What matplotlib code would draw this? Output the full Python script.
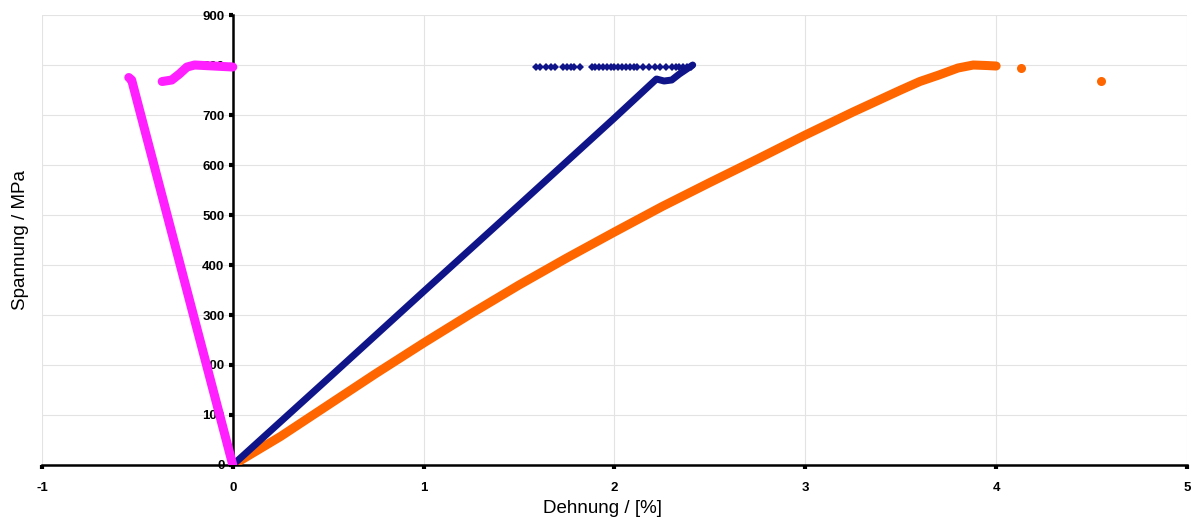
import matplotlib
matplotlib.use("Agg")
import matplotlib.pyplot as plt

# Stress-strain curves (strain in %, stress in MPa)
blue_strain = [0.0, 0.5, 1.0, 1.5, 2.0, 2.22, 2.26, 2.30, 2.34, 2.41]
blue_stress = [0.0, 173, 347, 520, 694, 772, 768, 770, 782, 800]
blue_dia_strain = [1.59, 1.61, 1.64, 1.67, 1.69, 1.73, 1.75, 1.77, 1.79, 1.82,
                   1.88, 1.90, 1.92, 1.94, 1.96, 1.98, 2.00, 2.02, 2.04, 2.06,
                   2.08, 2.10, 2.12, 2.15, 2.18, 2.21, 2.24, 2.27, 2.30, 2.32,
                   2.34, 2.36, 2.38, 2.40]
blue_dia_stress = [797] * len(blue_dia_strain)

orange_strain = [0.0, 0.25, 0.5, 0.75, 1.0, 1.25, 1.5, 1.75, 2.0, 2.25, 2.5,
                 2.75, 3.0, 3.25, 3.5, 3.6, 3.7, 3.8, 3.88, 3.95, 4.0]
orange_stress = [0, 57, 120, 183, 244, 303, 360, 414, 466, 517, 565,
                 612, 660, 706, 750, 767, 780, 794, 800, 799, 798]
orange_out_strain = [4.13, 4.55]
orange_out_stress = [794, 768]

magenta_strain = [0.0, -0.53, -0.545]
magenta_stress = [0, 770, 775]
magenta_top_strain = [-0.37, -0.32, -0.28, -0.24, -0.20, -0.10, 0.0]
magenta_top_stress = [767, 770, 782, 796, 800, 798, 796]

x_ticks = [-1, 0, 1, 2, 3, 4, 5]
y_ticks = [0, 100, 200, 300, 400, 500, 600, 700, 800, 900]

plt.rcParams['font.family'] = ['Liberation Sans', 'DejaVu Sans']
plt.rcParams['axes.unicode_minus'] = False

fig = plt.figure(figsize=(11.95, 5.25), dpi=100)
ax = fig.add_axes([0.0351, 0.1143, 0.9582, 0.8571])

ax.set_xlim(-1, 5)
ax.set_ylim(0, 900)
ax.set_xticks(x_ticks)
ax.set_yticks(y_ticks)
ax.grid(True, color='#e3e3e3', linewidth=0.8)
ax.set_axisbelow(True)

for s in ('top', 'right'):
    ax.spines[s].set_visible(False)
ax.spines['left'].set_position(('data', 0))
ax.spines['bottom'].set_position(('data', 0))
ax.spines['left'].set_linewidth(1.8)
ax.spines['bottom'].set_linewidth(1.8)
ax.spines['left'].set_zorder(1)
ax.spines['bottom'].set_zorder(1)

ax.tick_params(axis='both', direction='out', length=3, width=3, labelsize=9.5)
ax.tick_params(axis='x', pad=9)
ax.tick_params(axis='y', pad=3)
for lab in ax.get_xticklabels() + ax.get_yticklabels():
    lab.set_fontweight('bold')

ax.plot(orange_strain, orange_stress, color='#FF6600', linewidth=6.5,
        solid_capstyle='round', solid_joinstyle='round', zorder=3)
ax.plot(orange_out_strain, orange_out_stress, 'o', color='#FF6600',
        markersize=6.5, markeredgewidth=0, zorder=3)

ax.plot(blue_strain, blue_stress, color='#0F1588', linewidth=5,
        solid_capstyle='round', solid_joinstyle='round', zorder=4)
ax.plot(blue_dia_strain, blue_dia_stress, 'D', color='#0F1588',
        markersize=4.5, markeredgewidth=0, zorder=4)

ax.plot(magenta_strain, magenta_stress, color='#FF1FFF', linewidth=6.5,
        solid_capstyle='round', solid_joinstyle='round', zorder=5)
ax.plot(magenta_top_strain, magenta_top_stress, color='#FF1FFF', linewidth=6.5,
        solid_capstyle='round', solid_joinstyle='round', zorder=5)

ax.set_xlabel('Dehnung / [%]', fontsize=13.5)
ax.set_ylabel('Spannung / MPa', fontsize=13.5)
ax.yaxis.set_label_coords(0.024, 0.543, transform=fig.transFigure)
ax.xaxis.set_label_coords(0.504, 0.047, transform=fig.transFigure)

fig.savefig('out.png', dpi=100)
